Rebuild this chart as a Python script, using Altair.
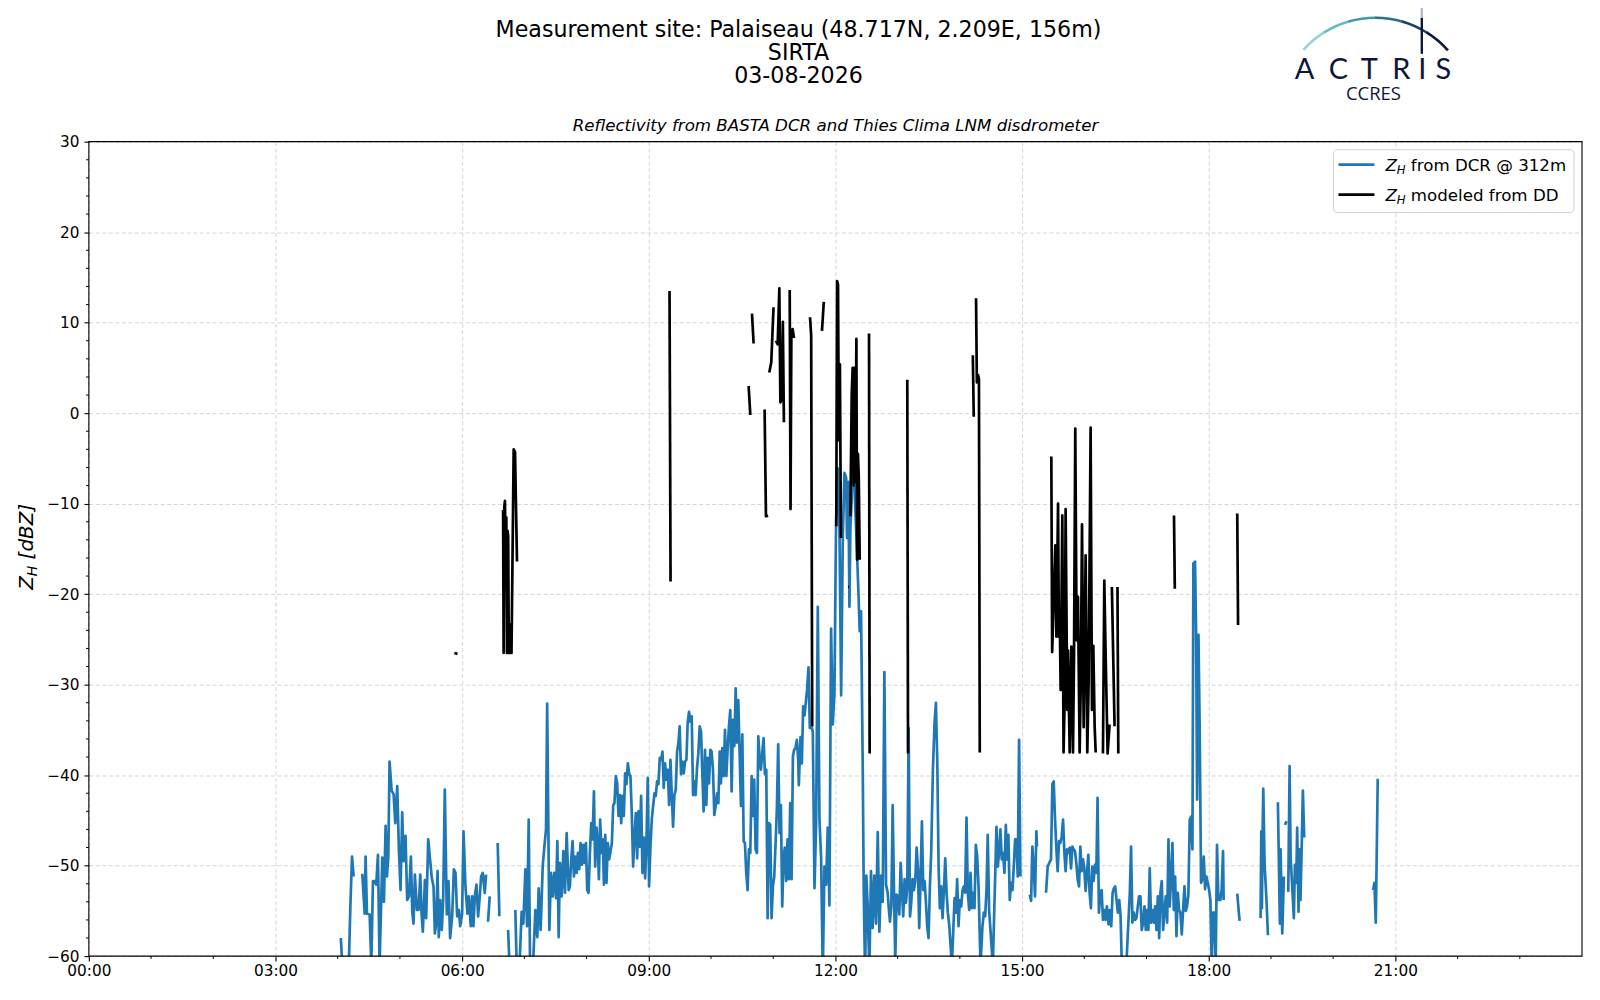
import altair as alt
import pandas as pd

# ---------------- data (minutes after midnight, dBZ); None = gap ----------------
BLUE = [
    (243.0, -58.0), (245.0, -62.0), (247, None),
    (250.5, -62.0), (252.2, -54.5), (253.8, -49.0), (255.4, -51.2), (259, None),
    (263.7, -50.9), (266.0, -55.3), (266.9, -49.0), (268.2, -55.3), (270.8, -55.4), (272.4, -61.0),
    (274.0, -51.7), (275.6, -51.7), (277.2, -52.1), (278.8, -48.8), (280.4, -61.0), (283.0, -49.1),
    (284.6, -54.0), (286.2, -45.6), (287.5, -51.2), (288.8, -49.0), (290.0, -38.5), (292.0, -41.7),
    (293.9, -42.1), (295.5, -45.3), (297.4, -41.2), (299.0, -48.2), (300.6, -52.7), (302.2, -44.1),
    (303.5, -49.5), (305.4, -46.7), (307.0, -53.8), (308.7, -53.4), (310.6, -49.0), (311.9, -55.1),
    (313.1, -56.4), (314.4, -51.0), (316.4, -54.9), (318.0, -54.9), (319.6, -51.0), (320.9, -55.3),
    (322.1, -57.3), (324.1, -51.6), (325.3, -55.8), (327.3, -47.1), (329.2, -49.5), (330.8, -51.4),
    (332.4, -52.3), (333.7, -57.5), (335.0, -56.4), (336.3, -50.6), (337.5, -57.9), (338.8, -53.8),
    (340.4, -57.1), (341.7, -53.8), (343.3, -41.6), (345.2, -55.4), (346.8, -51.7), (348.4, -58.0),
    (350.4, -55.6), (352.0, -50.4), (353.6, -50.8), (355.2, -55.6), (356.8, -54.9), (358.1, -56.7),
    (360.0, -55.3), (361.3, -46.2), (363.2, -52.3), (365.1, -55.3), (366.4, -53.4), (368.3, -56.7),
    (369.6, -53.4), (370.9, -56.7), (372.2, -53.4), (373.8, -52.1), (375.4, -55.6), (377.0, -53.4),
    (378.3, -51.2), (379.9, -50.8), (381.8, -53.0), (383.1, -51.0), (384, None),
    (385.0, -56.2), (386.6, -53.4), (390, None),
    (394.3, -47.5), (395.9, -55.6), (400, None),
    (404.3, -57.1), (405.9, -61.5), (408, None),
    (411.3, -54.9), (412.6, -61.0), (415.0, -62.0), (417.4, -55.1), (419.0, -56.4), (421.0, -50.4),
    (422.6, -56.7), (424.2, -44.9), (425.5, -61.0), (428.0, -62.0), (430.6, -54.9), (432.5, -57.9),
    (433.8, -52.5), (435.7, -57.1), (437.7, -50.1), (439.3, -47.9), (440.9, -46.0), (442.0, -32.1),
    (444.1, -57.1), (445.7, -50.8), (447.3, -53.4), (448.9, -50.8), (450.5, -53.6), (451.8, -47.3),
    (453.1, -57.9), (454.3, -49.7), (456.0, -53.4), (457.6, -48.4), (459.2, -53.0), (460.8, -46.4),
    (462.7, -52.7), (463.9, -52.3), (465.2, -49.3), (466.5, -47.3), (467.8, -51.2), (469.1, -49.0),
    (470.4, -50.8), (471.6, -48.6), (472.9, -50.4), (474.2, -47.5), (475.5, -49.9), (476.8, -47.7),
    (478.1, -49.7), (479.4, -47.5), (480.6, -52.7), (481.9, -53.0), (483.2, -48.6), (484.5, -45.3),
    (485.8, -47.1), (487.1, -41.8), (488.3, -50.1), (489.6, -45.8), (490.9, -47.9), (491.9, -51.5),
    (493.1, -44.9), (494.4, -48.6), (495.7, -47.1), (496.7, -52.1), (498.0, -46.6), (499.2, -51.9),
    (500.5, -47.5), (501.8, -49.3), (503.1, -48.4), (504.4, -47.5), (505.7, -43.3), (506.9, -43.1),
    (508.2, -40.1), (509.5, -40.9), (510.8, -44.5), (512.1, -42.2), (513.4, -45.3), (514.6, -42.3),
    (515.9, -44.5), (517.2, -39.8), (518.5, -41.0), (519.8, -38.7), (521.1, -39.9), (522.3, -40.1),
    (523.6, -44.2), (524.9, -50.1), (526.2, -46.8), (527.5, -44.2), (528.8, -49.2), (530.1, -44.0),
    (531.3, -47.9), (532.6, -42.3), (533.9, -50.8), (535.2, -46.9), (536.5, -51.4), (537.8, -47.1),
    (539.0, -40.3), (540.3, -52.3), (541.6, -47.9), (542.9, -44.9), (544.2, -43.4), (545.5, -42.0),
    (546.7, -42.3), (548.0, -40.7), (549.3, -41.0), (550.6, -38.1), (551.9, -38.3), (553.2, -37.4),
    (554.4, -41.4), (555.7, -38.7), (557.0, -40.5), (558.3, -39.4), (559.6, -43.3), (560.9, -38.3),
    (562.1, -42.0), (563.4, -45.7), (564.7, -42.2), (566.0, -41.6), (567.3, -37.4), (568.6, -36.4),
    (569.8, -34.6), (571.1, -39.9), (572.4, -38.5), (573.7, -39.8), (575.0, -38.5), (576.3, -38.3),
    (577.5, -34.2), (578.8, -33.0), (580.1, -34.1), (581.4, -33.5), (582.7, -42.2), (584.0, -40.7),
    (585.2, -42.2), (586.5, -39.2), (587.8, -37.6), (589.1, -34.6), (590.4, -35.2), (591.7, -40.1),
    (592.9, -44.0), (594.2, -37.2), (595.5, -43.3), (596.8, -38.1), (598.1, -40.9), (599.4, -37.2),
    (600.6, -37.4), (601.9, -39.4), (603.2, -44.4), (604.5, -43.4), (605.8, -42.0), (607.1, -43.1),
    (608.4, -37.4), (609.6, -40.9), (610.9, -37.0), (612.2, -40.1), (613.5, -35.0), (614.8, -40.1),
    (616.1, -37.0), (617.3, -34.6), (618.6, -32.8), (619.9, -41.8), (621.2, -33.9), (622.5, -36.8),
    (623.8, -30.4), (625.0, -36.4), (626.3, -31.7), (627.6, -37.6), (628.9, -43.4), (630.2, -35.5),
    (631.5, -47.3), (632.7, -47.5), (634.0, -50.8), (635.3, -52.7), (636.6, -48.2), (637.9, -48.6),
    (639.2, -40.1), (640.4, -44.5), (641.7, -40.5), (643.0, -48.2), (644.3, -48.6), (645.6, -35.7),
    (646.9, -38.1), (648.1, -39.4), (649.4, -37.6), (650.7, -35.9), (652.0, -39.9), (653.3, -39.4),
    (654.6, -55.8), (655.8, -45.3), (657.1, -45.5), (658.4, -55.8), (659.7, -52.3), (661.0, -51.2),
    (662.3, -47.5), (663.5, -43.8), (664.8, -36.6), (666.1, -46.4), (667.4, -43.3), (668.7, -54.5),
    (670.0, -49.0), (671.2, -48.0), (672.5, -51.7), (673.8, -47.1), (675.1, -51.5), (676.4, -43.1),
    (677.7, -51.5), (679.0, -37.9), (680.2, -37.2), (681.5, -37.0), (682.8, -36.1), (684.1, -38.3),
    (684.7, -41.1), (686.3, -35.8), (687.6, -38.7), (688.9, -32.4), (690.2, -33.4), (691.4, -32.0),
    (692.7, -30.5), (694.0, -28.1), (695.3, -34.8), (696.6, -34.3), (698.2, -35.3), (699.8, -52.5),
    (701.4, -45.4), (703.0, -21.4), (704.6, -44.9), (706.2, -49.2), (707.8, -62.0), (709.4, -50.1),
    (711.0, -52.1), (712.6, -45.8), (714.2, -54.4), (715.8, -23.8), (717.4, -34.4), (719.0, -31.0),
    (720.6, -12.3), (722.2, -6.1), (723.9, -12.8), (725.5, -31.2), (727.1, -13.8), (728.7, -6.6),
    (730.3, -7.1), (731.2, -13.8), (732.5, -7.6), (733.5, -21.4), (734.4, -12.8), (735.7, -9.5),
    (737.0, 3.0), (738.3, -8.0), (740.9, -15.7), (742.1, -19.5), (743.4, -24.1), (744.7, -21.9),
    (746.3, -38.7), (747.3, -52.8), (748.6, -62.0), (749.8, -51.1), (751.1, -54.4), (752.7, -62.0),
    (754.3, -50.6), (755.9, -56.9), (757.5, -51.1), (759.2, -56.4), (760.8, -46.3), (762.4, -57.3),
    (764.0, -51.1), (765.6, -54.0), (767.2, -28.6), (768.8, -52.1), (770.4, -53.0), (771.3, -54.5),
    (772.6, -56.2), (773.9, -54.5), (775.2, -43.3), (776.5, -53.0), (777.7, -60.5), (779.0, -53.2),
    (780.3, -53.4), (781.6, -55.4), (782.9, -49.7), (784.2, -53.0), (785.4, -55.6), (786.7, -51.5),
    (788.0, -54.1), (789.3, -52.3), (790.6, -34.8), (791.9, -55.6), (793.1, -54.1), (794.4, -51.5),
    (795.7, -52.7), (797.0, -51.7), (798.3, -48.0), (799.6, -50.4), (800.8, -56.9), (802.1, -51.5),
    (803.4, -45.1), (804.7, -52.7), (806.0, -51.7), (807.3, -54.1), (808.5, -56.7), (809.8, -58.0),
    (811.1, -52.3), (812.4, -48.4), (814.0, -39.4), (815.6, -34.2), (816.9, -32.0), (818.2, -38.3),
    (819.5, -50.1), (820.7, -54.7), (822.0, -52.3), (823.3, -55.8), (824.6, -52.8), (825.9, -49.2),
    (827.2, -53.0), (828.4, -55.2), (829.7, -56.5), (832.3, -61.0), (834.9, -53.6), (836.1, -55.2),
    (837.4, -51.5), (838.7, -56.7), (840.0, -53.8), (841.3, -54.5), (842.6, -52.7), (843.8, -52.3),
    (845.1, -53.0), (846.4, -44.7), (847.7, -53.0), (849.0, -54.9), (850.3, -50.8), (851.5, -54.7),
    (852.8, -53.0), (854.1, -54.7), (855.4, -47.7), (856.7, -49.0), (858.0, -52.3), (859.9, -61.0),
    (861.8, -56.7), (863.1, -55.2), (864.4, -55.6), (865.7, -52.7), (866.9, -46.6), (868.2, -54.9),
    (871.8, -61.0), (875.3, -45.7), (876.6, -50.1), (877.9, -48.4), (879.1, -46.0), (880.4, -49.3),
    (881.7, -48.6), (883.0, -50.8), (884.3, -45.5), (885.6, -49.3), (886.8, -46.6), (888.1, -53.8),
    (889.4, -51.9), (890.7, -52.7), (892.0, -50.1), (893.3, -47.1), (894.5, -47.1), (895.8, -51.2),
    (897.1, -36.1), (898.4, -51.2), (902, None),
    (907.4, -53.2), (908.7, -53.9), (909.9, -47.9), (911.2, -50.1), (912.5, -53.4), (913.8, -46.2),
    (914.4, -47.9), (918, None),
    (923.1, -53.0), (924.7, -50.1), (926.3, -49.7), (927.9, -49.3), (929.2, -41.0), (930.5, -40.7),
    (931.8, -44.9), (933.1, -48.2), (934.3, -50.6), (935.6, -47.3), (936.9, -47.5), (938.2, -46.8),
    (939.5, -44.9), (940.8, -48.6), (942.0, -50.6), (943.3, -48.2), (944.6, -48.6), (945.9, -48.0),
    (947.2, -50.3), (948.5, -47.9), (949.7, -48.2), (951.0, -48.4), (952.3, -49.7), (953.6, -51.5),
    (954.9, -52.3), (956.2, -47.9), (957.4, -50.6), (958.7, -49.3), (960.0, -50.3), (961.3, -52.8),
    (962.6, -50.8), (963.9, -48.8), (965.1, -53.0), (966.4, -54.7), (967.7, -50.1), (969.0, -51.7),
    (970.3, -49.9), (971.6, -50.8), (972.8, -42.5), (974.1, -55.2), (975.4, -53.0), (976.7, -52.7),
    (978.0, -56.0), (979.3, -54.9), (980.5, -56.0), (981.8, -54.5), (983.4, -56.5), (984.7, -54.9),
    (986.0, -56.7), (987.3, -53.0), (988.5, -52.5), (989.8, -52.3), (991.1, -53.8), (992.4, -55.2),
    (993.7, -53.8), (995.0, -55.6), (996.2, -61.0), (1000.1, -62.0), (1003.9, -53.0), (1005.1, -47.9),
    (1006.4, -56.3), (1007.7, -55.2), (1009.0, -56.0), (1010.3, -55.8), (1011.6, -54.5), (1012.8, -53.4),
    (1014.1, -53.4), (1015.4, -57.1), (1016.7, -56.3), (1018.0, -54.5), (1019.3, -57.1), (1020.5, -54.9),
    (1021.8, -57.1), (1023.1, -50.3), (1024.4, -56.3), (1025.7, -54.9), (1027.1, -56.3), (1028.3, -54.5),
    (1029.6, -57.1), (1030.9, -53.4), (1032.2, -58.0), (1033.4, -53.0), (1034.7, -51.7), (1036.0, -57.1),
    (1037.3, -55.2), (1038.6, -53.4), (1039.9, -56.3), (1041.2, -47.1), (1042.4, -54.5), (1043.7, -51.5),
    (1045.0, -47.5), (1046.3, -54.9), (1047.6, -51.2), (1048.9, -57.8), (1050.2, -53.0), (1051.4, -54.9),
    (1052.7, -55.2), (1054.0, -57.6), (1055.3, -54.9), (1056.6, -52.3), (1057.9, -55.0), (1059.1, -54.5),
    (1060.4, -53.2), (1061.7, -44.9), (1063.0, -44.6), (1064.3, -48.2), (1065.2, -16.6), (1066.8, -16.4),
    (1067.8, -24.0), (1068.8, -42.7), (1070.1, -24.5), (1071.3, -35.0), (1072.6, -51.9), (1073.9, -51.5),
    (1075.2, -49.0), (1076.5, -52.6), (1077.8, -51.2), (1079.0, -51.9), (1080.3, -52.6), (1081.6, -53.8),
    (1082.9, -61.0), (1084.2, -55.2), (1085.5, -55.2), (1086.7, -61.0), (1088.0, -47.7), (1089.3, -53.8),
    (1091.2, -53.8), (1092.5, -52.6), (1093.8, -48.4), (1094.4, -53.8), (1100, None),
    (1107.5, -53.1), (1108.9, -55.0), (1109.8, -56.1), (1120, None),
    (1130.0, -55.8), (1130.7, -46.2), (1131.3, -54.7), (1132.0, -46.0), (1132.6, -41.5), (1133.9, -49.9),
    (1135.8, -54.0), (1137.1, -57.7), (1142, None),
    (1146.7, -43.0), (1148.6, -56.4), (1149.3, -48.2), (1150.9, -57.5), (1152.5, -51.2), (1153.0, None),
    (1153.5, -45.5), (1155.1, -45.1), (1156.0, None),
    (1156.7, -52.9), (1158.0, -39.0), (1159.0, -49.1), (1162.1, -55.8), (1163.1, -49.9), (1164.4, -51.9),
    (1165.3, -45.8), (1166.6, -55.1), (1167.6, -48.2), (1168.5, -53.8), (1169.8, -47.1), (1170.8, -41.7),
    (1172.1, -46.9), (1200, None),
    (1238.5, -52.7), (1239.8, -51.9), (1241.1, -56.3), (1243.0, -40.4),
]

BLACK = [
    (352.5, -26.5), (355.5, -26.6), (358, None),
    (399.5, -10.7), (400.0, -26.5), (400.6, -10.4), (401.3, -9.7), (402.0, -17.9), (402.6, -11.5),
    (403.2, -26.5), (403.8, -13.0), (404.4, -13.6), (405.0, -26.5), (405.6, -23.3), (406.2, -26.5),
    (406.8, -24.3), (407.6, -26.5), (409.7, -4.0), (411.0, -4.3), (412.9, -16.4), (420, None),
    (560.0, 13.5), (561.0, -18.6), (600, None),
    (636.3, 3.0), (637.9, -0.2), (638.7, None),
    (639.5, 11.0), (641.1, 7.7), (645, None),
    (651.7, 0.4), (653.0, -11.4), (655.0, -11.3), (655.6, None),
    (656.2, 4.5), (658.1, 5.6), (660.3, 11.7), (661.5, None),
    (662.6, 8.0), (664.3, 7.6), (665.9, 13.8), (666.9, 1.2), (668.2, 1.5), (669.3, 10.1), (670.3, -1.0), (673, None),
    (675.9, 13.6), (676.7, -10.6), (677.5, 8.7), (678.7, 9.3), (680.0, 8.3), (690, None),
    (695.5, 10.6), (696.6, 8.6), (697.6, -34.6), (702, None),
    (707.0, 9.1), (708.8, 12.3), (715, None),
    (720.8, -12.5), (721.6, 14.6), (722.5, 14.2), (723.3, -3.0), (724.3, 5.4), (725.3, -13.8), (728, None),
    (732.1, -19.2), (733.0, -19.2), (733.7, None),
    (734.4, -11.4), (735.7, 2.0), (736.6, 5.0), (737.6, -8.0), (738.4, 5.0), (739.3, -7.6), (740.2, 8.2),
    (740.9, -16.2), (741.7, -4.5), (742.5, -7.0), (743.4, -16.2), (748, None),
    (752.4, 8.8), (753.0, -37.6), (770, None),
    (789.3, 3.7), (790.0, -37.6), (820, None),
    (852.5, 6.4), (853.4, -0.4), (854.5, None),
    (855.6, 12.7), (856.4, 3.4), (857.5, 4.2), (858.4, 3.8), (859.2, -37.5), (900, None),
    (928.2, -4.8), (929.0, -26.4), (929.8, -23.3), (932.1, -14.6), (933.1, -24.7), (934.7, -10.0),
    (935.5, -24.7), (936.3, -22.2), (937.2, -30.6), (938.8, -11.3), (940.0, -37.5), (941.0, -32.0),
    (942.0, -10.6), (943.6, -32.8), (944.3, -26.2), (945.9, -37.5), (947.5, -25.8), (949.1, -37.5),
    (950.1, -26.6), (951.3, -1.7), (952.6, -25.1), (953.9, -20.3), (955.5, -37.5), (956.6, -30.0),
    (957.8, -12.3), (959.4, -34.7), (961.3, -15.7), (962.9, -37.5), (964.2, -29.5), (966.1, -1.6),
    (967.4, -32.8), (968.7, -25.7), (970.0, -34.7), (971.0, -37.5), (974, None),
    (978.0, -37.6), (979.3, -18.5), (980.5, -26.2), (982.5, -37.6), (984.4, -34.4), (985.5, None),
    (986.6, -19.2), (989.2, -34.6), (990.5, None),
    (992.0, -19.2), (992.8, -37.6), (1000, None),
    (1046.5, -11.3), (1047.3, -19.4), (1080, None),
    (1107.5, -11.1), (1108.3, -23.4),
]

HOUR_TICKS = [0, 3, 6, 9, 12, 15, 18, 21]
HOUR_MINOR = [h for h in range(1, 24) if h % 3 != 0]
DBZ_TICKS = [-60, -50, -40, -30, -20, -10, 0, 10, 20, 30]
DBZ_MINOR = [v for v in range(-58, 30, 2) if v % 10 != 0]

TITLE_LINES = ["Measurement site: Palaiseau (48.717N, 2.209E, 156m)", "SIRTA", "03-08-2026"]
SUBTITLE = "Reflectivity from BASTA DCR and Thies Clima LNM disdrometer"
LEGEND_LABELS = ["from DCR @ 312m", "modeled from DD"]

BLUE_C = "#1f77b4"
NAVY = "#0e1538"
FONT = "DejaVu Sans"
W, H = 1496, 816


def to_frame(points):
    rows, seg = [], 0
    for t, v in points:
        if v is None:
            seg += 1
            continue
        rows.append({"h": t / 60.0, "v": v, "seg": seg})
    return pd.DataFrame(rows)


blue_df = to_frame(BLUE)
black_df = to_frame(BLACK)

xscale = alt.Scale(domain=[0, 24], nice=False, zero=False)
yscale = alt.Scale(domain=[-60, 30], nice=False, zero=False)

xaxis = alt.Axis(values=HOUR_TICKS, title=None, grid=True,
                 labelExpr="(datum.value < 10 ? '0' : '') + datum.value + ':00'",
                 labelPadding=3, labelFlush=False)
yaxis = alt.Axis(values=DBZ_TICKS, title=None, grid=True,
                 labelExpr="datum.value < 0 ? '\u2212' + abs(datum.value) : '' + datum.value",
                 labelPadding=5)

X = alt.X("h:Q", scale=xscale, axis=xaxis)
Y = alt.Y("v:Q", scale=yscale, axis=yaxis)

blue = alt.Chart(blue_df).mark_line(color=BLUE_C, strokeWidth=2.7, clip=True,
                                    strokeJoin="round").encode(x=X, y=Y, detail="seg:N")
black = alt.Chart(black_df).mark_line(color="black", strokeWidth=2.7, clip=True,
                                      strokeJoin="round").encode(x=X, y=Y, detail="seg:N")

xminor = alt.Chart(pd.DataFrame({"h": HOUR_MINOR})).mark_rule(
    color="black", strokeWidth=1.0).encode(x=X, y=alt.value(H), y2=alt.value(H + 2.8))
yminor = alt.Chart(pd.DataFrame({"v": DBZ_MINOR})).mark_rule(
    color="black", strokeWidth=1.0).encode(y=Y, x=alt.value(0), x2=alt.value(-2.8))

ONE = pd.DataFrame({"k": [0]})


def txt(s, x, y, size, color="black", align="center", baseline="alphabetic",
        style="normal", angle=0, font=FONT, weight="normal"):
    kw = dict(fontSize=size, font=font, color=color, align=align, baseline=baseline,
              fontStyle=style, fontWeight=weight)
    if angle:
        kw["angle"] = angle
    return alt.Chart(pd.DataFrame({"s": [s]})).mark_text(**kw).encode(
        text="s:N", x=alt.value(x), y=alt.value(y))


def rule(x1, x2, y1, y2, color, width):
    return alt.Chart(ONE).mark_rule(color=color, strokeWidth=width).encode(
        x=alt.value(x1), x2=alt.value(x2), y=alt.value(y1), y2=alt.value(y2))


layers = [blue, black, xminor, yminor]

# solid frame around the plot area (drawn above the grid)
layers.append(alt.Chart(ONE).mark_rect(fill=None, stroke="black", strokeWidth=1.1).encode(
    x=alt.value(0), x2=alt.value(W), y=alt.value(0), y2=alt.value(H)))

# titles
layers.append(txt(TITLE_LINES[0], 711, -104.5, 22.2))
layers.append(txt(TITLE_LINES[1], 711, -81.8, 22.2))
layers.append(txt(TITLE_LINES[2], 711, -58.3, 22.2))
layers.append(txt(SUBTITLE, W / 2, -10.4, 16.7, style="italic"))

# y axis title: Z_H [dBZ]
layers.append(txt("Z", -56, 449, 20, align="left", style="italic", angle=270))
layers.append(txt("H", -51.5, 435.5, 14, align="left", style="italic", angle=270))
layers.append(txt("[dBZ]", -56, 418.5, 20, align="left", style="italic", angle=270))

# legend
layers.append(alt.Chart(ONE).mark_rect(fill="white", fillOpacity=0.8, stroke="#d0d0d0",
                                       strokeWidth=1, cornerRadius=4).encode(
    x=alt.value(1247), x2=alt.value(1488), y=alt.value(8), y2=alt.value(71)))
for i, (lab, col) in enumerate(zip(LEGEND_LABELS, [BLUE_C, "black"])):
    yy = 23 + 30 * i
    layers.append(rule(1252, 1288, yy, yy, col, 2.7))
    layers.append(txt("Z", 1299, yy + 6, 16.7, align="left", style="italic"))
    layers.append(txt("H", 1310.5, yy + 9.5, 11.7, align="left", style="italic"))
    layers.append(txt(lab, 1324.5, yy + 6, 16.7, align="left"))

# logo (ACTRIS / CCRES)
ARC_COLORS = ["#93d6cf", "#62bcbb", "#3f9aa6", "#2a7189", "#1b4165", "#101a40"]
a0, a1 = 5.447, 7.119
step = (a1 - a0) / len(ARC_COLORS)
for i, c in enumerate(ARC_COLORS):
    layers.append(alt.Chart(ONE).mark_arc(
        theta=a0 + i * step, theta2=a0 + (i + 1) * step + 0.01,
        radius=98.4, radius2=95.8, color=c).encode(x=alt.value(1289), y=alt.value(-27)))
layers.append(rule(1335.5, 1335.5, -139, -124, "#b6bac8", 2.4))
layers.append(rule(1335.5, 1335.5, -124, -88, NAVY, 2.4))
for letter, cx in zip("ACTRIS", [1218, 1252, 1283, 1315, 1336, 1357]):
    layers.append(txt(letter, cx, -63, 29, color=NAVY, font="Lato"))
layers.append(txt("CCRES", 1287, -42, 18.5, color=NAVY, font="Open Sans"))

chart = alt.layer(*layers).properties(
    width=W, height=H,
    autosize=alt.AutoSizeParams(type="none"),
    padding={"left": 81, "top": 133, "right": 10, "bottom": 30},
).configure_view(stroke=None).configure_axis(
    labelFont=FONT, labelFontSize=15.3, labelColor="black",
    tickColor="black", tickWidth=1.1, tickSize=4.9,
    domain=False, gridColor="#d0d0d0", gridDash=[4, 2.5], gridWidth=0.9,
)

chart.save("out.html", embed_options={"renderer": "svg", "actions": False})
